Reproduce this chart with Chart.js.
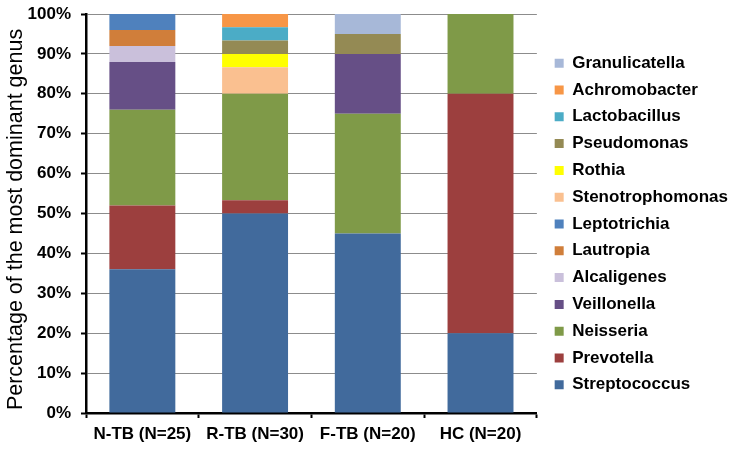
<!DOCTYPE html>
<html>
<head>
<meta charset="utf-8">
<script src="https://cdn.jsdelivr.net/npm/chart.js@4/dist/chart.umd.min.js"></script>
<style>
  html, body { margin: 0; padding: 0; background: #ffffff; }
  #chart { display: block; }
</style>
</head>
<body>
<canvas id="chart" width="738" height="451"></canvas>
<script>
const groups = ['N-TB (N=25)', 'R-TB (N=30)', 'F-TB (N=20)', 'HC (N=20)'];

// percentage of samples where each genus is the most dominant one
const streptococcus = [36, 50, 45, 20];
const prevotella = [16, 3.33, 0, 60];
const neisseria = [24, 26.67, 30, 20];
const veillonella = [12, 0, 15, 0];
const alcaligenes = [4, 0, 0, 0];
const lautropia = [4, 0, 0, 0];
const leptotrichia = [4, 0, 0, 0];
const stenotrophomonas = [0, 6.67, 0, 0];
const rothia = [0, 3.33, 0, 0];
const pseudomonas = [0, 3.33, 5, 0];
const lactobacillus = [0, 3.33, 0, 0];
const achromobacter = [0, 3.33, 0, 0];
const granulicatella = [0, 0, 5, 0];

const yTicks = [0, 10, 20, 30, 40, 50, 60, 70, 80, 90, 100];

const FONT = 'Arial, "Liberation Sans", sans-serif';

const series = [
  ['Streptococcus', streptococcus, '#416a9c'],
  ['Prevotella', prevotella, '#9c3f3e'],
  ['Neisseria', neisseria, '#7f9a48'],
  ['Veillonella', veillonella, '#664f86'],
  ['Alcaligenes', alcaligenes, '#cac0db'],
  ['Lautropia', lautropia, '#d07e3a'],
  ['Leptotrichia', leptotrichia, '#4f81bd'],
  ['Stenotrophomonas', stenotrophomonas, '#fac090'],
  ['Rothia', rothia, '#ffff00'],
  ['Pseudomonas', pseudomonas, '#948a54'],
  ['Lactobacillus', lactobacillus, '#4bacc6'],
  ['Achromobacter', achromobacter, '#f79646'],
  ['Granulicatella', granulicatella, '#a7b8d8'],
];

const datasets = series.map(([label, data, color]) => ({
  label,
  data,
  backgroundColor: color,
  borderWidth: 0,
  categoryPercentage: 1,
  barPercentage: 0.585,
}));

new Chart(document.getElementById('chart'), {
  type: 'bar',
  data: { labels: groups, datasets },
  options: {
    responsive: false,
    animation: false,
    devicePixelRatio: 1,
    layout: { padding: { top: -3, left: 0, right: 0, bottom: 0 } },
    scales: {
      x: {
        stacked: true,
        grid: {
          display: true,
          drawOnChartArea: false,
          drawTicks: true,
          tickLength: 5,
          tickColor: '#000000',
          tickWidth: 2,
        },
        border: { color: '#000000', width: 2.5 },
        ticks: {
          color: '#000000',
          padding: 6,
          font: { family: FONT, size: 17, weight: 'bold' },
        },
        afterFit: (scale) => { scale.height = 38; },
      },
      y: {
        stacked: true,
        min: 0,
        max: 100,
        afterBuildTicks: (scale) => { scale.ticks = yTicks.map((value) => ({ value })); },
        grid: {
          color: '#8c8c8c',
          lineWidth: 1,
          tickLength: 5,
          tickColor: '#000000',
          tickWidth: 2,
        },
        border: { color: '#000000', width: 2.5 },
        ticks: {
          color: '#000000',
          padding: 10,
          font: { family: FONT, size: 17, weight: 'bold' },
          callback: (value) => value + '%',
        },
        title: {
          display: true,
          // trailing spaces nudge the rotated title a little lower
          text: 'Percentage of the most dominant genus\u00a0\u00a0',
          color: '#000000',
          padding: { top: 3, bottom: 0 },
          font: { family: FONT, size: 21.5 },
        },
        afterFit: (scale) => {
          scale.width = 86;
          scale.paddingTop = 14;
        },
      },
      // empty spacer between plot and legend
      gap: {
        position: 'right',
        min: 0,
        max: 100,
        grid: { display: false },
        border: { display: false },
        ticks: { display: false },
        afterFit: (scale) => { scale.width = 8; },
      },
    },
    plugins: {
      legend: {
        position: 'right',
        reverse: true,
        maxWidth: 210,
        labels: {
          color: '#000000',
          boxWidth: 9,
          boxHeight: 9,
          padding: 9.8,
          font: { family: FONT, size: 17, weight: 'bold' },
        },
      },
      tooltip: { enabled: false },
    },
  },
});
</script>
</body>
</html>
